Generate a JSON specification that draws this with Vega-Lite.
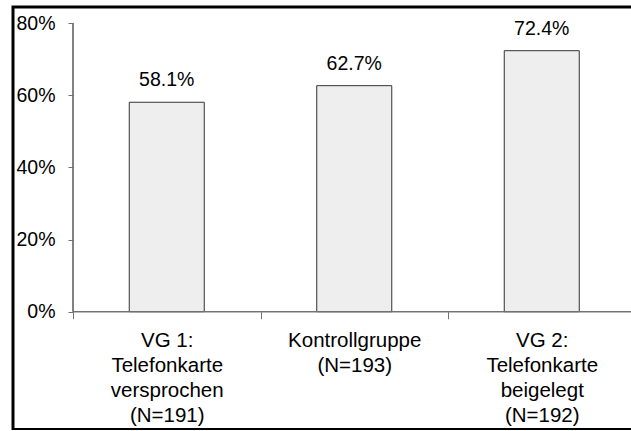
{
  "$schema": "https://vega.github.io/schema/vega-lite/v6.json",
  "autosize": {"type": "none"},
  "padding": {"left": 13, "top": 7, "right": 0, "bottom": 0},
  "width": 682.5,
  "height": 422.5,
  "background": "white",
  "config": {
    "view": {"stroke": "black", "strokeWidth": 3},
    "font": "Liberation Sans",
    "axis": {"labelFont": "Liberation Sans", "labelColor": "black", "labelFontSize": 19.5, "grid": false, "title": null, "tickColor": "#707070", "tickWidth": 1}
  },
  "data": {"values": [
    {"group": "VG 1:|Telefonkarte|versprochen|(N=191)", "share": 0.581},
    {"group": "Kontrollgruppe|(N=193)", "share": 0.627},
    {"group": "VG 2:|Telefonkarte|beigelegt|(N=192)", "share": 0.724}
  ]},
  "encoding": {
    "x": {"field": "group", "type": "nominal", "sort": null,
      "scale": {"domain": ["VG 1:|Telefonkarte|versprochen|(N=191)", "Kontrollgruppe|(N=193)", "VG 2:|Telefonkarte|beigelegt|(N=192)"], "paddingInner": 0, "paddingOuter": 0.32},
      "axis": {"orient": "bottom", "offset": -117.8, "domain": false, "tickBand": "extent", "tickSize": 7, "labelPadding": 12, "labelAngle": 0, "labelLimit": 0, "labelFontSize": 20.5, "labelExpr": "split(datum.label, '|')", "labelLineHeight": 25}
    },
    "y": {"field": "share", "type": "quantitative",
      "scale": {"domain": [-0.3268, 0.8452], "nice": false, "zero": false},
      "axis": {"orient": "left", "offset": -60, "domain": false, "values": [0, 0.2, 0.4, 0.6, 0.8], "format": ".0%", "tickSize": 5, "labelPadding": 13}
    }
  },
  "layer": [
    {"mark": {"type": "bar", "width": {"band": 0.4}, "fill": "#eeeeee", "stroke": "#333333", "strokeWidth": 1}},
    {"mark": {"type": "text", "dy": -16, "fontSize": 19.5, "baseline": "alphabetic", "align": "center", "color": "black"},
      "encoding": {"text": {"field": "share", "type": "quantitative", "format": ".1%"}}},
    {"mark": {"type": "rule", "color": "#707070", "strokeWidth": 1},
      "encoding": {
        "x": {"datum": "VG 1:|Telefonkarte|versprochen|(N=191)", "bandPosition": 0},
        "y": {"datum": 0},
        "y2": {"datum": 0.8}
      }},
    {"mark": {"type": "rule", "color": "#707070", "strokeWidth": 1},
      "encoding": {
        "x": {"datum": "VG 1:|Telefonkarte|versprochen|(N=191)", "bandPosition": 0},
        "x2": {"datum": "VG 2:|Telefonkarte|beigelegt|(N=192)", "bandPosition": 1},
        "y": {"datum": 0}
      }}
  ]
}
